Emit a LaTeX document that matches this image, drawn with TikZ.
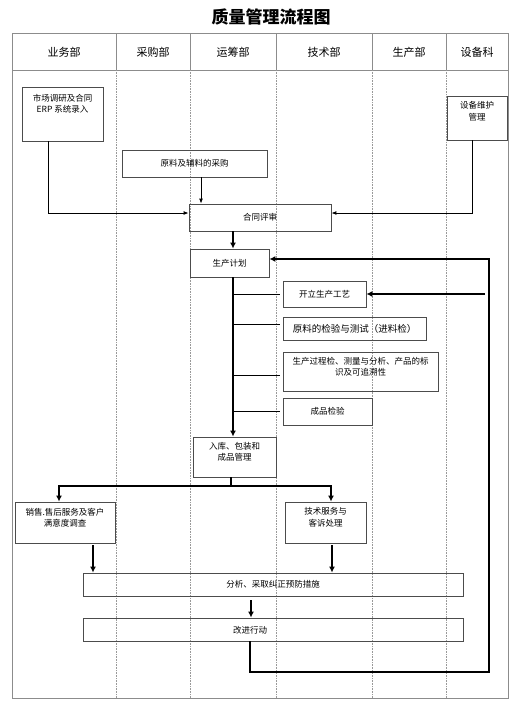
\documentclass[tikz,border=0pt]{standalone}
\usepackage{fontspec}
\setmainfont{Noto Sans CJK SC}
\usetikzlibrary{arrows.meta,positioning}
\tikzset{
	>={Latex[length=5pt,width=4pt]},
	frame/.style = {draw=black!45, line width=1pt},
	lane/.style = {draw=black!40, line width=0.6pt, densely dotted},
	head/.style = {font=\fontsize{11}{13}\selectfont},
	box/.style = {
			rectangle,
			draw            = black!70,
			line width      = 0.8pt,
			inner sep       = 0pt,
		},
	txt/.style = {
			font  = \fontsize{8.5}{11.5}\selectfont,
			align = center,
			inner sep = 0pt,
		},
	link/.style = {draw=black, line width=0.9pt},
	flow/.style = {draw=black, line width=2.8pt, >={Latex[length=6pt,width=6pt]}},
}
\begin{document}
\begin{tikzpicture}[x=1pt,y=-1pt]
	\useasboundingbox (0,0) rectangle (532,720);
	% title
	\node[font=\fontsize{17}{20}\bfseries\selectfont] (title) at (271,17) {质量管理流程图};
	% frame and lanes
	\draw[frame] (12,33) rectangle (508,698);
	\draw[frame] (12,70) -- (508,70);
	\foreach \x in {116,190,276,372,446} {
			\draw[frame] (\x,33) -- (\x,70);
			\draw[lane] (\x,70) -- (\x,698);
		}
	\node[head] (h1) at (64,52) {业务部};
	\node[head] (h2) at (153,52) {采购部};
	\node[head] (h3) at (233,52) {运筹部};
	\node[head] (h4) at (324,52) {技术部};
	\node[head] (h5) at (409,52) {生产部};
	\node[head] (h6) at (477,52) {设备科};

	% boxes
	\node[box, minimum width=81, minimum height=54] (mkt) at (62.5,114) {};
	\node[txt, below=7pt of mkt.north] (mkt-t) {市场调研及合同\\ERP 系统录入};
	\node[box, minimum width=60, minimum height=44] (equip) at (477,118) {};
	\node[txt, below=6pt of equip.north] (equip-t) {设备维护\\管理};
	\node[box, txt, minimum width=145, minimum height=27] (buy) at (194.5,163.5) {原料及辅料的采购};
	\node[box, txt, minimum width=142, minimum height=27] (review) at (260,217.5) {合同评审};
	\node[box, txt, minimum width=79, minimum height=28] (plan) at (229.5,263) {生产计划};
	\node[box, txt, minimum width=83, minimum height=26] (craft) at (324.5,294) {开立生产工艺};
	\node[box, txt, font=\fontsize{9.5}{12}\selectfont, minimum width=143, minimum height=23] (incoming) at (354.5,328.5) {原料的检验与测试（进料检）};
	\node[box, minimum width=155, minimum height=39] (process) at (360.5,371.5) {};
	\node[txt, below=5pt of process.north] (process-t) {生产过程检、测量与分析、产品的标\\识及可追溯性};
	\node[box, txt, minimum width=89, minimum height=27] (final) at (327.5,411.5) {成品检验};
	\node[box, minimum width=83, minimum height=40] (store) at (234.5,457) {};
	\node[txt, below=5.5pt of store.north] (store-t) {入库、包装和\\成品管理};
	\node[box, minimum width=100, minimum height=41] (sales) at (65,522.5) {};
	\node[txt, below=6pt of sales.north] (sales-t) {销售.售后服务及客户\\满意度调查};
	\node[box, minimum width=81, minimum height=41] (service) at (325.5,522.5) {};
	\node[txt, below=6pt of service.north] (service-t) {技术服务与\\客诉处理};
	\node[box, txt, minimum width=380, minimum height=23] (analyse) at (273,584.5) {分析、采取纠正预防措施};
	\node[box, minimum width=380, minimum height=23] (improve) at (273,629.5) {};
	\node[txt] (improve-t) at (250,630) {改进行动};

	% helper points
	\coordinate (trunk) at (233,263);
	\coordinate (split) at (231,486);
	\coordinate (loopbr) at (489,672);
	\coordinate (craftin) at (485,294);

	% inputs to the contract review
	\draw[link,->] ([xshift=-14.5pt]mkt.south) |- ([yshift=4.5pt]review.west);
	\draw[link,->] ([xshift=-5pt]equip.south) |- ([yshift=4.5pt]review.east);
	\draw[link,->] ([xshift=6.5pt]buy.south) -- ([xshift=6.5pt]buy.south |- review.north);

	% main flow
	\draw[flow,->] (trunk |- review.south) -- (trunk |- plan.north);
	\draw[flow,->] (trunk |- plan.south) -- (trunk |- store.north);
	\draw[link] (trunk |- craft.west) -- ([xshift=-3pt]craft.west);
	\draw[link] (trunk |- incoming.west) ++(0,-4.5) -- ([xshift=-3pt,yshift=4.5pt]incoming.west);
	\draw[link] (trunk |- process.west) ++(0,3.5) -- ([xshift=-3pt,yshift=-3.5pt]process.west);
	\draw[link] (trunk |- final.west) -- ([xshift=-3pt]final.west);

	% after storage
	\draw[flow] ([xshift=-3.5pt]store.south) -- (split);
	\draw[flow,->] (split) -| ([xshift=-6pt]sales.north);
	\draw[flow,->] (split) -| ([xshift=5.5pt]service.north);
	\draw[flow,->] ([xshift=28pt,yshift=-2pt]sales.south) -- ([xshift=28pt]sales.south |- analyse.north);
	\draw[flow,->] ([xshift=6.5pt,yshift=-2pt]service.south) -- ([xshift=6.5pt]service.south |- analyse.north);
	\draw[flow,->] ([xshift=-22pt,yshift=-4pt]analyse.south) -- ([xshift=-22pt]analyse.south |- improve.north);

	% feedback
	\draw[flow,->] ([xshift=-23pt]improve.south) |- (loopbr) |- ([yshift=4pt]plan.east);
	\draw[flow,->] (craftin) -- (craft.east);
\end{tikzpicture}
\end{document}
